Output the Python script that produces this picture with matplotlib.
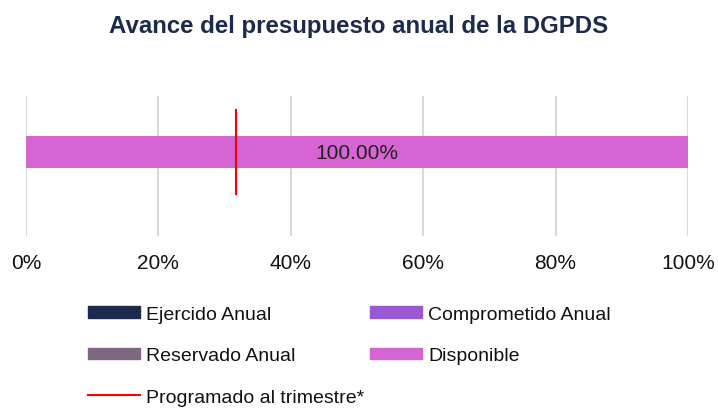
import matplotlib
matplotlib.use("Agg")
import matplotlib.pyplot as plt
from matplotlib.patches import Patch
from matplotlib.lines import Line2D
from matplotlib.ticker import PercentFormatter

# ── Data (percent of annual budget) ──
SERIES = ["Ejercido Anual", "Comprometido Anual", "Reservado Anual", "Disponible"]
VALUES = [0.0, 0.0, 0.0, 100.0]
PROGRAMADO = 31.7
PROG_LABEL = "Programado al trimestre*"
TITLE = "Avance del presupuesto anual de la DGPDS"
XTICKS = [0, 20, 40, 60, 80, 100]

COLORS = ["#1c2b4b", "#9b58d2", "#7f6681", "#d664d2"]
NAVY = "#1c2b4b"
RED = "#ff0000"

plt.rcParams["font.family"] = ["Liberation Sans", "DejaVu Sans"]

fig = plt.figure(figsize=(7.18, 4.10), dpi=100)
ax = fig.add_axes([26 / 718, 1 - 237 / 410, 662 / 718, 140 / 410])

left = 0.0
for name, val, col in zip(SERIES, VALUES, COLORS):
    ax.barh(0, val, left=left, height=0.23, color=col, zorder=2)
    if val > 0:
        ax.text(left + val / 2, -0.005, f"{val:.2f}%", ha="center", va="center",
                fontsize=15, color="#222222", zorder=4)
    left += val

ax.plot([PROGRAMADO, PROGRAMADO], [-0.3, 0.3], color=RED, lw=1.5, zorder=3)

ax.set_xlim(0, 100)
ax.set_ylim(-0.6, 0.4)
ax.set_xticks(XTICKS)
ax.xaxis.set_major_formatter(PercentFormatter(decimals=0))
ax.tick_params(axis="x", length=0, labelsize=15, pad=12, colors="#111111")
ax.set_yticks([])
ax.grid(axis="x", color="#d9d9d9", lw=1.5, zorder=0)
for s in ax.spines.values():
    s.set_visible(False)

fig.text(0.5, 0.935, TITLE, ha="center", va="center", fontsize=17.3,
         fontweight="bold", color=NAVY)

# legend: two columns placed separately so the column gap matches
leg_kw = dict(loc="upper left", frameon=False, fontsize=14, handlelength=2.68,
              handleheight=0.55, handletextpad=0.3, labelspacing=1.25,
              borderpad=0, borderaxespad=0, labelcolor="#111111")
col1 = [(Patch(color=COLORS[0]), SERIES[0]), (Patch(color=COLORS[2]), SERIES[2]),
        (Line2D([], [], color=RED, lw=1.5), PROG_LABEL)]
col2 = [(Patch(color=COLORS[1]), SERIES[1]), (Patch(color=COLORS[3]), SERIES[3])]
top = 1 - 307 / 410
leg1 = fig.legend(*zip(*col1), bbox_to_anchor=(88 / 718, top), **leg_kw)
leg2 = fig.legend(*zip(*col2), bbox_to_anchor=(370 / 718, top), **leg_kw)

fig.savefig("out.png", dpi=100)
